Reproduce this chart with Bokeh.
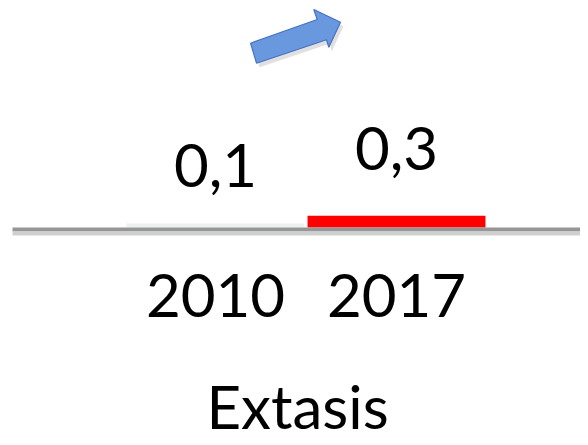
from bokeh.plotting import figure
from bokeh.models import Range1d
from bokeh.core.properties import value
from bokeh.embed import file_html
from bokeh.resources import INLINE

# ---- data ----
categories = ["2010", "2017"]
values = [0.1, 0.3]
bar_colors = ["#eef1f1", "#ff0000"]
title_text = "Extasis"

W, H = 580, 429
PX_PER_CAT = 181.0
PX_PER_UNIT = 39.0
X0_PX = 215.0      # pixel position of first category
Y0_PX = 227.0      # pixel position (from top) of the baseline
TEXT_SHIFT = -22   # empirical correction of the rendered text baseline

p = figure(width=W, height=H, output_backend="svg", toolbar_location=None,
           x_range=Range1d(-X0_PX / PX_PER_CAT, (W - X0_PX) / PX_PER_CAT),
           y_range=Range1d(-(H - Y0_PX) / PX_PER_UNIT, Y0_PX / PX_PER_UNIT),
           x_axis_type=None, y_axis_type=None, min_border=0,
           outline_line_color=None, background_fill_color="white",
           border_fill_color="white")
p.grid.visible = False
p.extra_x_ranges = {"px": Range1d(0, W)}
p.extra_y_ranges = {"py": Range1d(H, 0)}

xs = list(range(len(categories)))
FONT = value("Lato")

# bars
p.vbar(x=xs, top=values, bottom=0, width=0.983, fill_color=bar_colors,
       line_color=None)

# baseline with light shadow (decoration, pixel space)
p.segment(x0=[12], y0=[Y0_PX + 2], x1=[W], y1=[Y0_PX + 2], line_width=4,
          line_color="#969696", x_range_name="px", y_range_name="py")
p.segment(x0=[12], y0=[Y0_PX + 6], x1=[W], y1=[Y0_PX + 6], line_width=4,
          line_color="#cfcfcf", x_range_name="px", y_range_name="py")

# value labels
label_offsets = [-36, -45]
for x, v, dy in zip(xs, values, label_offsets):
    p.text(x=[x], y=[v], text=[f"{v:.1f}".replace(".", ",")],
           text_font=FONT, text_font_size="60px", text_color="#000000",
           text_align="center", text_baseline="alphabetic",
           y_offset=dy + TEXT_SHIFT)

# category labels
p.text(x=xs, y=[0] * len(xs), text=categories, text_font=FONT,
       text_font_size="60px", text_color="#000000", text_align="center",
       text_baseline="alphabetic", y_offset=90 + TEXT_SHIFT)

# title at bottom (kept inside the canvas)
p.text(x=[297], y=[427 + TEXT_SHIFT], text=[title_text], text_font=FONT,
       text_font_size="60px", text_color="#000000", text_align="center",
       text_baseline="alphabetic", x_range_name="px", y_range_name="py")

# block arrow decoration (pixel space)
ax = [250, 316.7, 313.3, 340, 328.3, 326, 256]
ay = [42.7, 19, 9, 21.7, 46.7, 39.3, 62.7]
p.patch(x=[a + 3 for a in ax], y=[a + 4 for a in ay], fill_color="#000000",
        fill_alpha=0.12, line_color=None, x_range_name="px", y_range_name="py")
p.patch(x=ax, y=ay, fill_color="#6a98de", line_color="#4472c4", line_width=1.2,
        x_range_name="px", y_range_name="py")

open("out.html", "w").write(file_html(p, INLINE))
